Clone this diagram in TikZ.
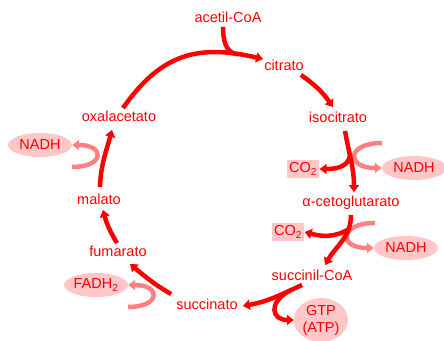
\documentclass[tikz,border=0pt]{standalone}
\usepackage{fontspec}
\setmainfont{Liberation Sans}
\usetikzlibrary{arrows.meta,shapes.geometric}

\tikzset{
    metab/.style={text=red,font=\fontsize{14.5}{17}\selectfont,inner sep=1pt,text height=10.5pt,text depth=3pt},
    prod/.style={ellipse,fill=red!22,text=red,font=\fontsize{14.5}{17}\selectfont,minimum width=64pt,minimum height=24pt,inner sep=0pt},
    gas/.style={rectangle,fill=red!22,text=red,font=\fontsize{14.5}{17}\selectfont,minimum height=18pt,inner sep=2.5pt},
    cyc/.style={draw=red,line width=4.5pt},
    side/.style={draw=red!50,line width=4.5pt}
}

\begin{document}
\begin{tikzpicture}[x=1pt,y=1pt,>={Triangle[length=7pt,width=10pt]}]
            \useasboundingbox (0,0) rectangle (444,340);
            \begin{scope}[every node/.style={metab}]
                \node (acoa) at (228,321) {acetil-CoA};
                \node (cit) at (284,273) {citrato};
                \node (isoc) at (338,221) {isocitrato};
                \node (akg) at (351,137) {α-cetoglutarato};
                \node (scoa) at (312,63) {succinil-CoA};
                \node (succ) at (207,34) {succinato};
                \node (fum) at (118,87) {fumarato};
                \node (mal) at (99,139) {malato};
                \node (oaa) at (119,222) {oxalacetato};
            \end{scope}

            % what comes out of the cycle
            \node[prod] (nadh1) at (40,195) {NADH};
            \node[gas] (co2a) at (303,171) {CO\textsubscript{2}};
            \node[prod] (nadh2) at (414,172) {NADH};
            \node[gas] (co2b) at (288,108) {CO\textsubscript{2}};
            \node[prod] (nadh3) at (406,92) {NADH};
            \node[prod,minimum width=54pt,minimum height=44pt,align=center] (gtp) at (321,20) {GTP\\(ATP)};
            \node[prod] (fadh) at (96,55) {FADH\textsubscript{2}};

            \coordinate (n1s) at (72,173);
            \coordinate (n2s) at (382,197);
            \coordinate (n3s) at (375,117);
            \coordinate (fs) at (128,33);

            \begin{scope}[every path/.style={side,->}]
                \draw (n1s) .. controls +(33,0) and +(33,0) .. (nadh1.east);
                \draw (n2s) .. controls +(-36,0) and +(-36,0) .. (nadh2.west);
                \draw (n3s) .. controls +(-36,0) and +(-36,0) .. (nadh3.west);
                \draw (fs) .. controls +(33,0) and +(33,0) .. (fadh.east);
            \end{scope}

            \begin{scope}[every path/.style={cyc}]
                \draw[->] ([xshift=4pt,yshift=2pt]oaa.north) to[out=55,in=167,looseness=1.15] coordinate[pos=0.86] (jn) (cit.north west);
                \draw ([xshift=-5pt]acoa.south) to[out=-90,in=175] (jn);
                \draw[->] ([xshift=-4pt]cit.south east) to[out=-35,in=125] ([xshift=-5pt,yshift=4pt]isoc.north);
                \draw[->] ([xshift=7pt,yshift=-4pt]isoc.south) to[out=-80,in=90] coordinate[pos=0.4] (j1) ([xshift=3pt,yshift=3pt]akg.north);
                \draw[->] (j1) to[out=-100,in=0] (co2a.east);
                \draw[->] ([yshift=-4pt]akg.south) to[out=-90,in=60] coordinate[pos=0.25] (j2) ([xshift=13pt,yshift=4pt]scoa.north);
                \draw[->] (j2) to[out=210,in=-15] (co2b.east);
                \draw[->] ([xshift=-10pt]scoa.south) to[out=205,in=10] coordinate[pos=0.2] (j3) ([xshift=4pt]succ.east);
                \draw[->] (j3) .. controls +(-22,-12) and +(-22,0) .. (gtp.west);
                \draw[->] ([xshift=-4pt,yshift=4pt]succ.north west) to[out=150,in=-40] ([xshift=12pt,yshift=-3pt]fum.south);
                \draw[->] ([xshift=-1pt,yshift=2pt]fum.north) to[out=121,in=-75] ([xshift=4pt,yshift=-1pt]mal.south);
                \draw[->] ([xshift=1pt,yshift=6pt]mal.north) to[out=88,in=-105] ([xshift=-7pt,yshift=-4pt]oaa.south);
            \end{scope}
        \end{tikzpicture}
\end{document}
